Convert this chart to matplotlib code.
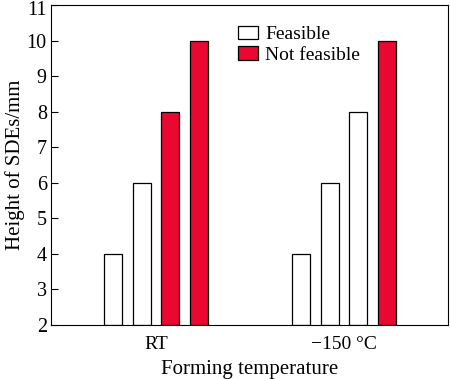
import numpy as np
import matplotlib.pyplot as plt
import matplotlib.transforms as mtransforms
from matplotlib.patches import Patch

plt.rcParams['font.family'] = 'serif'
plt.rcParams['font.serif'] = ['Liberation Serif', 'DejaVu Serif']

groups = ["RT", "\u2212150 \u00b0C"]
heights = [[4, 6, 8, 10],
           [4, 6, 8, 10]]
feasible = [[True, True, False, False],
            [True, True, True, False]]

red = '#EA0830'
fig = plt.figure(figsize=(4.5, 3.79), dpi=100)
ax = fig.add_axes([51 / 450, 1 - 325 / 379, 397 / 450, 320 / 379])

step = 0.152
width = 0.096
offsets = (np.arange(4) - 1.5) * step
for g in range(len(groups)):
    for k in range(4):
        ax.bar(g + offsets[k], heights[g][k] - 2, width=width, bottom=2,
               color='white' if feasible[g][k] else red,
               edgecolor='black', linewidth=0.9)

ax.set_xlim(-0.559, 1.553)
ax.set_ylim(2, 11)
ax.set_yticks(range(2, 12))
ax.set_xticks([0, 1])
ax.set_xticklabels(groups)
ax.tick_params(axis='y', direction='in', length=5, labelsize=14.5, pad=3)
ax.tick_params(axis='x', length=0, labelsize=14, pad=8)
ax.set_xlabel("Forming temperature", fontsize=15, labelpad=5)
ax.set_ylabel("Height of SDEs/mm", fontsize=15, labelpad=1)

# top label sits a little lower so it stays inside the figure
top = ax.get_yticklabels()[-1]
top.set_transform(top.get_transform() +
                  mtransforms.ScaledTranslation(0, -3 / 100, fig.dpi_scale_trans))

handles = [Patch(facecolor='white', edgecolor='black', linewidth=0.9),
           Patch(facecolor=red, edgecolor='black', linewidth=0.9)]
ax.legend(handles, ["Feasible", "Not feasible"], loc='upper center',
          bbox_to_anchor=(0.625, 0.99), frameon=False, fontsize=14,
          handlelength=1.0, handleheight=0.7, handletextpad=0.4,
          labelspacing=0.15)

fig.savefig("out.png", dpi=100)
